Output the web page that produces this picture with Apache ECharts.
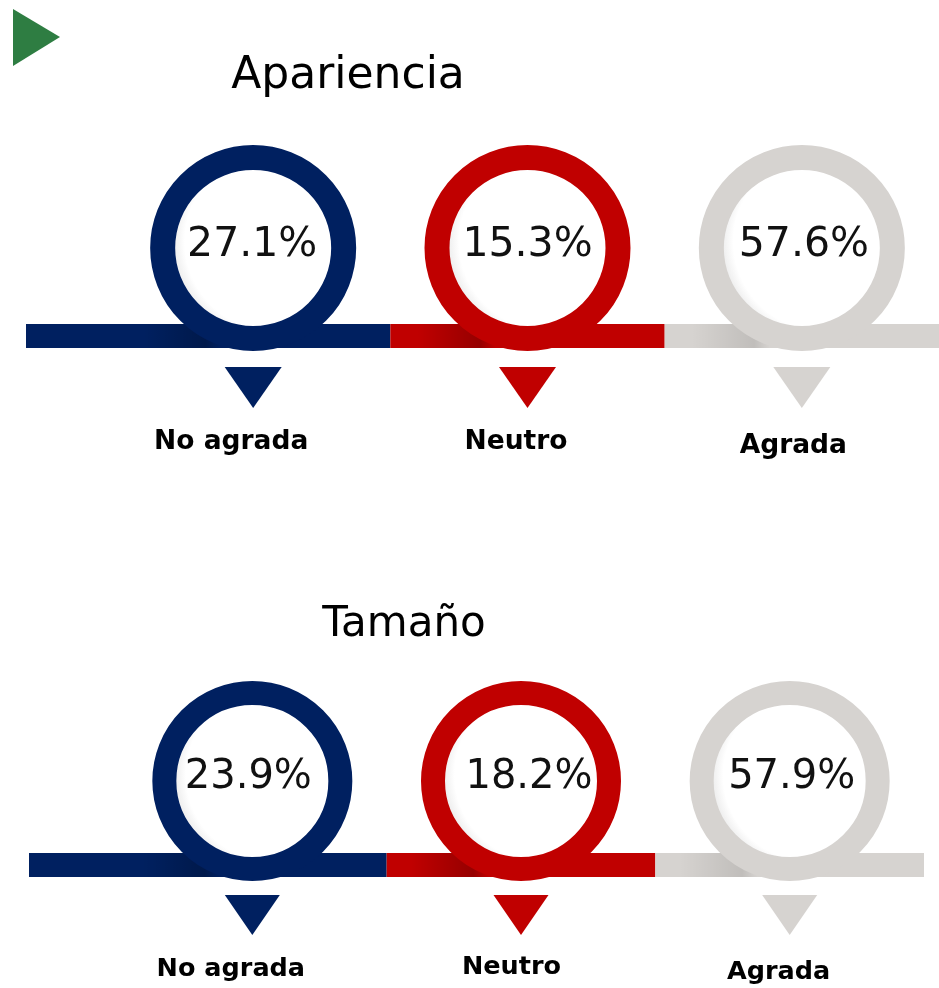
<!DOCTYPE html>
<html>
<head>
<meta charset="utf-8">
<script src="https://cdn.jsdelivr.net/npm/echarts@6/dist/echarts.min.js"></script>
<style>
html, body { margin: 0; padding: 0; background: #fff; }
#chart { width: 939px; height: 988px; }
</style>
</head>
<body>
<div id="chart"></div>
<script>
// datos
const categories = ['No agrada', 'Neutro', 'Agrada']
const apariencia = [27.1, 15.3, 57.6]
const tamano = [23.9, 18.2, 57.9]
const panelTitles = ['Apariencia', 'Tamaño']

const colors = ['#002060', '#c00000', '#d6d3d0']
const shade = [0.22, 0.22, 0.1]
const font = '"DejaVu Sans", Verdana, sans-serif'

// layout de cada bloque (px)
const panels = [
  {
    values: apariencia, title: panelTitles[0], titleX: 348, titleY: 77, titleSize: 44,
    left: 116, width: 831, barTop: 324, barHeight: 24, lead: 90,
    ringSize: 206, ringWidth: 25, ringDy: -88, pctSize: 41, pctDx: [-1, 0, 2], pctDy: -3,
    arrow: [57, 41], arrowDy: 51.5, labelSize: 26.5, labelDx: [-22, -11.5, -8.5], labelDy: [55, 54.5, 58.5]
  },
  {
    values: tamano, title: panelTitles[1], titleX: 404, titleY: 625, titleSize: 42,
    left: 118, width: 806, barTop: 853, barHeight: 24, lead: 89,
    ringSize: 200, ringWidth: 24, ringDy: -84, pctSize: 40, pctDx: [-4, 8, 2], pctDy: -3.5,
    arrow: [55, 40], arrowDy: 50, labelSize: 25.5, labelDx: [-21.5, -9.5, -11], labelDy: [54.5, 52, 57]
  }
]

const chart = echarts.init(document.getElementById('chart'))

const grids = []
const xAxes = []
const yAxes = []
const series = []
const graphics = [
  { type: 'polygon', shape: { points: [[13, 9], [13, 66], [60, 37]] }, style: { fill: '#2e7d42' } }
]

panels.forEach((p, k) => {
  grids.push({ left: p.left, width: p.width, top: p.barTop, height: p.barHeight })
  xAxes.push({ type: 'category', gridIndex: k, data: categories, show: false, boundaryGap: true })
  yAxes.push({ type: 'value', gridIndex: k, min: 0, max: 1, show: false })

  graphics.push({
    type: 'text', x: p.titleX, y: p.titleY,
    style: { text: p.title, font: p.titleSize + 'px ' + font, fill: '#000', align: 'center', verticalAlign: 'middle' }
  })

  // barra horizontal
  series.push({
    type: 'custom',
    xAxisIndex: k,
    yAxisIndex: k,
    z: 1,
    silent: true,
    data: p.values.map((v, i) => [i, v]),
    renderItem(params, api) {
      const i = api.value(0)
      const c = api.coord([i, 0.5])
      const bw = api.size([1, 0])[0]
      const cs = params.coordSys
      let x0 = c[0] - bw / 2
      if (i === 0) x0 -= p.lead
      const x1 = c[0] + bw / 2
      return {
        type: 'group',
        children: [
          { type: 'rect', shape: { x: x0, y: cs.y, width: x1 - x0, height: cs.height }, style: { fill: colors[i] } },
          {
            type: 'rect',
            shape: { x: c[0] - 110, y: cs.y, width: 78, height: cs.height },
            style: {
              fill: new echarts.graphic.LinearGradient(0, 0, 1, 0, [
                { offset: 0, color: 'rgba(0,0,0,0)' },
                { offset: 0.8, color: 'rgba(0,0,0,' + shade[i] + ')' },
                { offset: 1, color: 'rgba(0,0,0,0)' }
              ])
            }
          }
        ]
      }
    }
  })

  // anillos con porcentaje
  series.push({
    type: 'scatter',
    xAxisIndex: k,
    yAxisIndex: k,
    z: 3,
    silent: true,
    symbol: 'circle',
    symbolSize: p.ringSize - p.ringWidth,
    symbolOffset: [0, p.ringDy],
    data: p.values.map((v, i) => ({
      value: [i, 0.5, v],
      itemStyle: { borderColor: colors[i] },
      label: { offset: [p.pctDx[i], p.pctDy] }
    })),
    itemStyle: {
      opacity: 1,
      borderWidth: p.ringWidth,
      color: {
        type: 'radial', x: 0.6, y: 0.47, r: 0.6,
        colorStops: [
          { offset: 0, color: '#ffffff' },
          { offset: 0.72, color: '#ffffff' },
          { offset: 0.92, color: '#d9d9d9' },
          { offset: 1, color: '#d9d9d9' }
        ]
      }
    },
    label: {
      show: true,
      position: 'inside',
      formatter: d => d.value[2].toFixed(1) + '%',
      fontFamily: font,
      fontSize: p.pctSize,
      color: '#111'
    }
  })

  // flechas y etiquetas
  series.push({
    type: 'scatter',
    xAxisIndex: k,
    yAxisIndex: k,
    z: 2,
    silent: true,
    symbol: 'path://M0 0 L10 0 L5 7 Z',
    symbolSize: p.arrow,
    symbolOffset: [0, p.arrowDy],
    data: p.values.map((v, i) => ({
      value: [i, 0.5],
      itemStyle: { color: colors[i] },
      label: { offset: [p.labelDx[i], p.labelDy[i]] }
    })),
    itemStyle: { opacity: 1 },
    label: {
      show: true,
      position: 'inside',
      formatter: d => categories[d.dataIndex],
      fontFamily: font,
      fontWeight: 'bold',
      fontSize: p.labelSize,
      color: '#000'
    }
  })
})

chart.setOption({
  animation: false,
  backgroundColor: '#fff',
  grid: grids,
  xAxis: xAxes,
  yAxis: yAxes,
  series: series,
  graphic: graphics
})
</script>
</body>
</html>
